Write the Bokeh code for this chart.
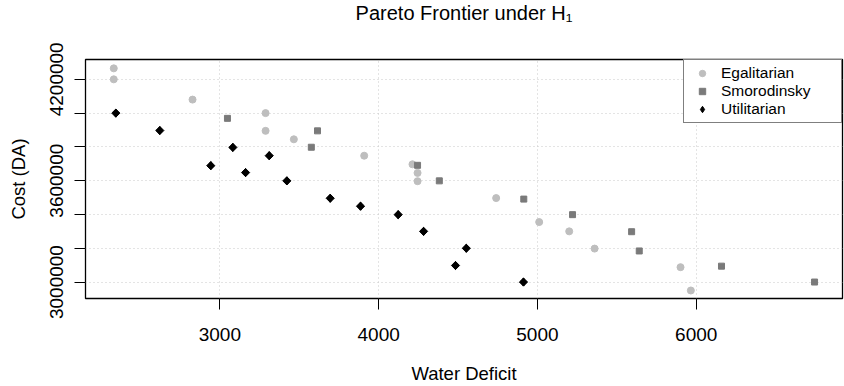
import math
from bokeh.plotting import figure
from bokeh.models import FixedTicker, Range1d, Legend, LegendItem, Title
from bokeh.embed import file_html
from bokeh.resources import INLINE

# ---- data ----
egal_x = [2332, 2332, 2828, 3288, 3288, 3466, 3909, 4213, 4245, 4245, 4740, 5011, 5200, 5360, 5901, 5966]
egal_y = [4265000, 4200000, 4080000, 4000000, 3895000, 3845000, 3748000, 3697000, 3646000, 3597000,
          3497000, 3355000, 3300000, 3198000, 3088000, 2950000]

smor_x = [3048, 3615, 3576, 4245, 4382, 4914, 5221, 5593, 5641, 6159, 6745]
smor_y = [3969000, 3895000, 3798000, 3691000, 3599000, 3491000, 3399000, 3298000, 3184000, 3094000, 3000000]

util_x = [2345, 2622, 2943, 3082, 3162, 3311, 3422, 3695, 3886, 4123, 4283, 4484, 4552, 4912]
util_y = [4000000, 3897000, 3689000, 3797000, 3648000, 3748000, 3599000, 3496000, 3449000, 3399000,
          3300000, 3098000, 3200000, 3000000]

x_ticks = [3000, 4000, 5000, 6000]
y_ticks = [3000000, 3200000, 3400000, 3600000, 3800000, 4000000, 4200000]
y_labels = ["3000000", "", "", "3600000", "", "", "4200000"]

series_names = ["Egalitarian", "Smorodinsky", "Utilitarian"]

FONT = "Liberation Sans"

p = figure(width=844, height=386, output_backend="svg", toolbar_location=None,
           x_range=Range1d(2154, 6921), y_range=Range1d(2902600, 4317400),
           min_border_left=85, min_border_right=2, min_border_top=58, min_border_bottom=87)

# spacer between title and frame (closest to the frame)
p.add_layout(Title(text=" ", text_font_size="10px", standoff=20), "above")

p.title.text = "Pareto Frontier under H\u2081"
p.title.align = "center"
p.title.vertical_align = "top"
p.title.text_font = FONT
p.title.text_font_size = "20px"
p.title.text_font_style = "normal"
p.title.text_color = "black"
p.title.standoff = 2

p.background_fill_color = "white"
p.border_fill_color = "white"
p.outline_line_color = "black"
p.outline_line_width = 1.3

# grid
for g in (p.xgrid, p.ygrid):
    g.grid_line_color = "#C8C8C8"
    g.grid_line_dash = "1 3"
    g.grid_line_width = 1
p.xgrid.ticker = FixedTicker(ticks=x_ticks)
p.ygrid.ticker = FixedTicker(ticks=y_ticks)

# axes
p.xaxis.ticker = FixedTicker(ticks=x_ticks)
p.yaxis.ticker = FixedTicker(ticks=y_ticks)
p.yaxis.major_label_overrides = {t: l for t, l in zip(y_ticks, y_labels)}
p.xaxis.major_label_overrides = {t: str(t) for t in x_ticks}
for ax in (p.xaxis, p.yaxis):
    ax.axis_line_color = None
    ax.major_tick_line_color = "black"
    ax.major_tick_line_width = 1
    ax.major_tick_in = 0
    ax.major_tick_out = 11
    ax.minor_tick_line_color = None
    ax.major_label_text_font = FONT
    ax.major_label_text_font_size = "19px"
    ax.major_label_text_color = "black"
    ax.axis_label_text_font = FONT
    ax.axis_label_text_font_size = "18.5px"
    ax.axis_label_text_font_style = "normal"
    ax.axis_label_text_color = "black"
p.xaxis.axis_label = "Water Deficit"
p.yaxis.axis_label = "Cost (DA)"
p.xaxis.major_label_standoff = 18
p.xaxis.axis_label_standoff = 19
p.yaxis.major_label_orientation = "parallel"
p.yaxis.major_label_standoff = 11
p.yaxis.axis_label_standoff = 19

# points
# legend key glyph (diamond), drawn underneath the rotated-square markers
r3_key = p.scatter(util_x, util_y, marker="diamond", size=8, fill_color="black", line_color="black")
r1 = p.scatter(egal_x, egal_y, marker="circle", size=7, fill_color="#BEBEBE", line_color="#BEBEBE")
r2 = p.scatter(smor_x, smor_y, marker="square", size=6, fill_color="#7A7A7A", line_color="#7A7A7A")
r3 = p.scatter(util_x, util_y, marker="square", size=5.8, angle=math.pi / 4,
               fill_color="black", line_color="black")

legend = Legend(items=[LegendItem(label=series_names[0], renderers=[r1]),
                       LegendItem(label=series_names[1], renderers=[r2]),
                       LegendItem(label=series_names[2], renderers=[r3_key])],
                location="top_right", margin=0, padding=4, spacing=0,
                glyph_width=28, glyph_height=16, label_height=16, label_width=116,
                label_standoff=5, label_text_font=FONT, label_text_font_size="15.5px",
                label_text_color="black",
                border_line_color="black", border_line_width=1.3,
                background_fill_color="white", background_fill_alpha=1)
p.add_layout(legend)

open("out.html", "w").write(file_html(p, INLINE))
